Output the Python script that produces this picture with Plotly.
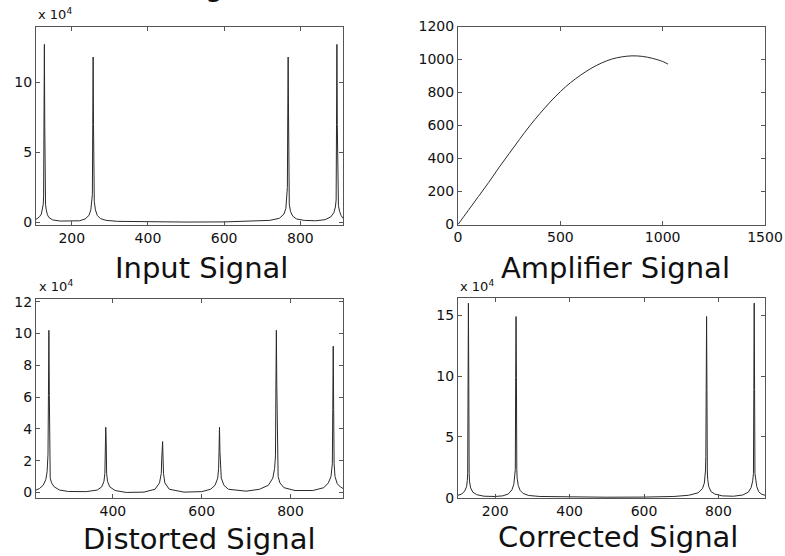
import plotly.graph_objects as go

# ---------------- data ----------------
# Input signal spectrum (units of 1e4)
input_x = [106, 110, 115, 120, 123, 125, 126, 127, 128, 129, 130, 131, 133, 136, 140, 150, 170, 200,
           220, 235, 245, 250, 253, 254, 255, 256, 257, 258, 259, 262, 267, 275, 290, 320, 400, 500,
           600, 680, 720, 745, 757, 762, 765, 766, 767, 768, 769, 770, 771, 774, 780, 790, 810, 840,
           865, 880, 888, 892, 894, 895, 896, 897, 898, 900, 903, 907, 912]
input_y = [0.22, 0.28, 0.4, 0.6, 0.9, 1.3, 1.9, 7.0, 12.7, 7.0, 1.9, 1.3, 0.9, 0.55, 0.35, 0.18, 0.1, 0.08,
           0.12, 0.25, 0.5, 0.9, 1.5, 2.0, 7.0, 11.8, 7.0, 2.8, 1.5, 0.9, 0.5, 0.28, 0.15, 0.08, 0.04, 0.03,
           0.04, 0.08, 0.15, 0.3, 0.6, 1.0, 1.8, 2.5, 7.8, 11.8, 7.8, 1.8, 1.3, 0.8, 0.45, 0.25, 0.15, 0.12,
           0.2, 0.4, 0.7, 1.1, 1.6, 7.0, 12.7, 7.0, 1.6, 1.2, 0.8, 0.5, 0.3]

# Amplifier transfer curve
amp_x = [0, 50, 100, 150, 200, 250, 300, 350, 400, 450, 500, 550, 600, 650, 700, 750, 800, 850,
         900, 950, 1000, 1026]
amp_y = [0, 85, 170, 255, 345, 430, 515, 597, 672, 742, 805, 860, 906, 946, 978, 1002, 1016, 1022,
         1019, 1007, 988, 972]

# Distorted signal spectrum (units of 1e4)
dist_x = [227, 235, 243, 249, 252, 254, 255, 256, 257, 258, 259, 262, 268, 280, 300, 340, 365, 375,
          380, 382, 383, 384, 385, 386, 388, 393, 405, 430, 470, 495, 505, 509, 510, 511, 512, 513,
          514, 517, 527, 560, 600, 620, 630, 636, 638, 639, 640, 641, 642, 644, 650, 660, 700, 730,
          750, 760, 764, 766, 767, 768, 769, 770, 772, 776, 785, 810, 850, 875, 885, 891, 894, 895,
          896, 897, 898, 900, 905, 912, 918]
dist_y = [0.15, 0.25, 0.45, 0.8, 1.3, 2.4, 6.1, 10.2, 6.1, 1.8, 0.9, 0.6, 0.35, 0.15, 0.06, 0.05, 0.15, 0.35,
          0.7, 1.2, 3.2, 4.1, 3.2, 1.2, 0.7, 0.35, 0.12, 0.0, 0.02, 0.2, 0.6, 1.2, 2.1, 3.2, 3.2, 2.1,
          1.2, 0.6, 0.2, 0.02, 0.05, 0.2, 0.45, 0.9, 1.5, 2.6, 4.1, 2.6, 1.5, 0.9, 0.45, 0.2, 0.08, 0.2,
          0.45, 0.9, 1.5, 2.3, 6.7, 10.2, 6.7, 2.3, 1.0, 0.6, 0.3, 0.12, 0.12, 0.3, 0.6, 1.0, 1.8, 5.2,
          9.2, 5.2, 1.8, 1.0, 0.55, 0.35, 0.25]

# Corrected signal spectrum (units of 1e4)
corr_x = [100, 110, 118, 123, 125, 126, 127, 128, 129, 130, 131, 134, 140, 150, 170, 200, 220, 235,
          245, 250, 253, 254, 255, 256, 257, 258, 259, 262, 267, 275, 290, 320, 400, 500, 600, 680,
          720, 745, 757, 762, 765, 766, 767, 768, 769, 770, 771, 774, 780, 790, 810, 840, 865, 880,
          888, 892, 894, 895, 896, 897, 898, 900, 903, 908, 915, 925]
corr_y = [0.2, 0.3, 0.55, 0.9, 1.4, 2.0, 9.2, 16.0, 9.2, 2.0, 1.3, 0.8, 0.45, 0.25, 0.12, 0.1, 0.15, 0.3,
          0.65, 1.1, 1.8, 2.3, 9.9, 14.9, 9.9, 2.3, 1.6, 1.0, 0.6, 0.35, 0.18, 0.1, 0.05, 0.04, 0.05, 0.1,
          0.2, 0.4, 0.75, 1.2, 2.2, 3.4, 8.9, 14.9, 8.9, 2.2, 1.5, 0.9, 0.5, 0.3, 0.15, 0.12, 0.22, 0.45,
          0.85, 1.4, 2.0, 8.9, 16.0, 8.9, 2.0, 1.4, 0.9, 0.5, 0.3, 0.2]

titles = ["Input Signal", "Amplifier Signal", "Distorted Signal", "Corrected Signal"]
exp_label = "x 10<sup>4</sup>"

# tick values
in_xt = [200, 400, 600, 800]
in_yt = [0, 5, 10]
amp_xt = [0, 500, 1000, 1500]
amp_yt = [0, 200, 400, 600, 800, 1000, 1200]
dist_xt = [400, 600, 800]
dist_yt = [0, 2, 4, 6, 8, 10, 12]
corr_xt = [200, 400, 600, 800]
corr_yt = [0, 5, 10, 15]

# ---------------- figure ----------------
W, H = 785, 556
FONT = "DejaVu Sans"
line_col = "#2a2a2a"
axis_col = "#555555"

fig = go.Figure()
fig.add_trace(go.Scatter(x=input_x, y=input_y, mode="lines", line=dict(color=line_col, width=1),
                         xaxis="x", yaxis="y", showlegend=False))
fig.add_trace(go.Scatter(x=amp_x, y=amp_y, mode="lines", line=dict(color=line_col, width=1, shape="spline"),
                         xaxis="x2", yaxis="y2", showlegend=False))
fig.add_trace(go.Scatter(x=dist_x, y=dist_y, mode="lines", line=dict(color=line_col, width=1),
                         xaxis="x3", yaxis="y3", showlegend=False))
fig.add_trace(go.Scatter(x=corr_x, y=corr_y, mode="lines", line=dict(color=line_col, width=1),
                         xaxis="x4", yaxis="y4", showlegend=False))


def px_x(p):
    return p / W


def px_y(p):
    return 1 - p / H


def ax(domain, rng, ticks, anchor):
    return dict(domain=domain, range=rng, tickvals=ticks, ticks="inside", ticklen=4,
                tickcolor=axis_col, showline=True, linecolor=axis_col, linewidth=1, mirror="ticks",
                showgrid=False, zeroline=False, anchor=anchor, automargin=False,
                tickfont=dict(family=FONT, size=14, color="#111111"))


left_d = [px_x(36), px_x(343)]
right_d = [px_x(458), px_x(765)]
top_d_l = [px_y(225), px_y(27)]
top_d_r = [px_y(224.5), px_y(26.5)]
bot_d_l = [px_y(498), px_y(299.3)]
bot_d_r = [px_y(498.3), px_y(298.3)]

fig.update_layout(
    width=W, height=H, margin=dict(l=0, r=0, t=0, b=0, pad=0, autoexpand=False),
    paper_bgcolor="white", plot_bgcolor="white",
    xaxis=ax(left_d, [106, 912], in_xt, "y"),
    yaxis=ax(top_d_l, [-0.18, 13.94], in_yt, "x"),
    xaxis2=ax(right_d, [0, 1500], amp_xt, "y2"),
    yaxis2=ax(top_d_r, [0, 1200], amp_yt, "x2"),
    xaxis3=ax(left_d, [227, 918], dist_xt, "y3"),
    yaxis3=ax(bot_d_l, [-0.35, 12.15], dist_yt, "x3"),
    xaxis4=ax(right_d, [100, 925], corr_xt, "y4"),
    yaxis4=ax(bot_d_r, [-0.05, 16.4], corr_yt, "x4"),
)

ann = []
title_pos = [(201.7, 268), (615, 268), (199, 539), (617.5, 537)]
for t, (cx, cy) in zip(titles, title_pos):
    ann.append(dict(text=t, x=px_x(cx), y=px_y(cy), xref="paper", yref="paper", showarrow=False,
                    xanchor="center", yanchor="middle", font=dict(family=FONT, size=29, color="#111111")))
for (lx, ly) in [(36, 14), (37, 286), (458, 286)]:
    ann.append(dict(text=exp_label, x=px_x(lx), y=px_y(ly), xref="paper", yref="paper", showarrow=False,
                    xanchor="left", yanchor="middle", font=dict(family=FONT, size=13, color="#111111")))
# clipped fragment of a caption above the figure
ann.append(dict(text="g", x=px_x(214), y=px_y(-14), xref="paper", yref="paper", showarrow=False,
                xanchor="center", yanchor="middle", font=dict(family=FONT, size=29, color="#111111")))
fig.update_layout(annotations=ann)

fig.write_html("out.html", config={"displayModeBar": False},
               post_script="document.body.style.margin='0';document.body.style.overflow='hidden';")
